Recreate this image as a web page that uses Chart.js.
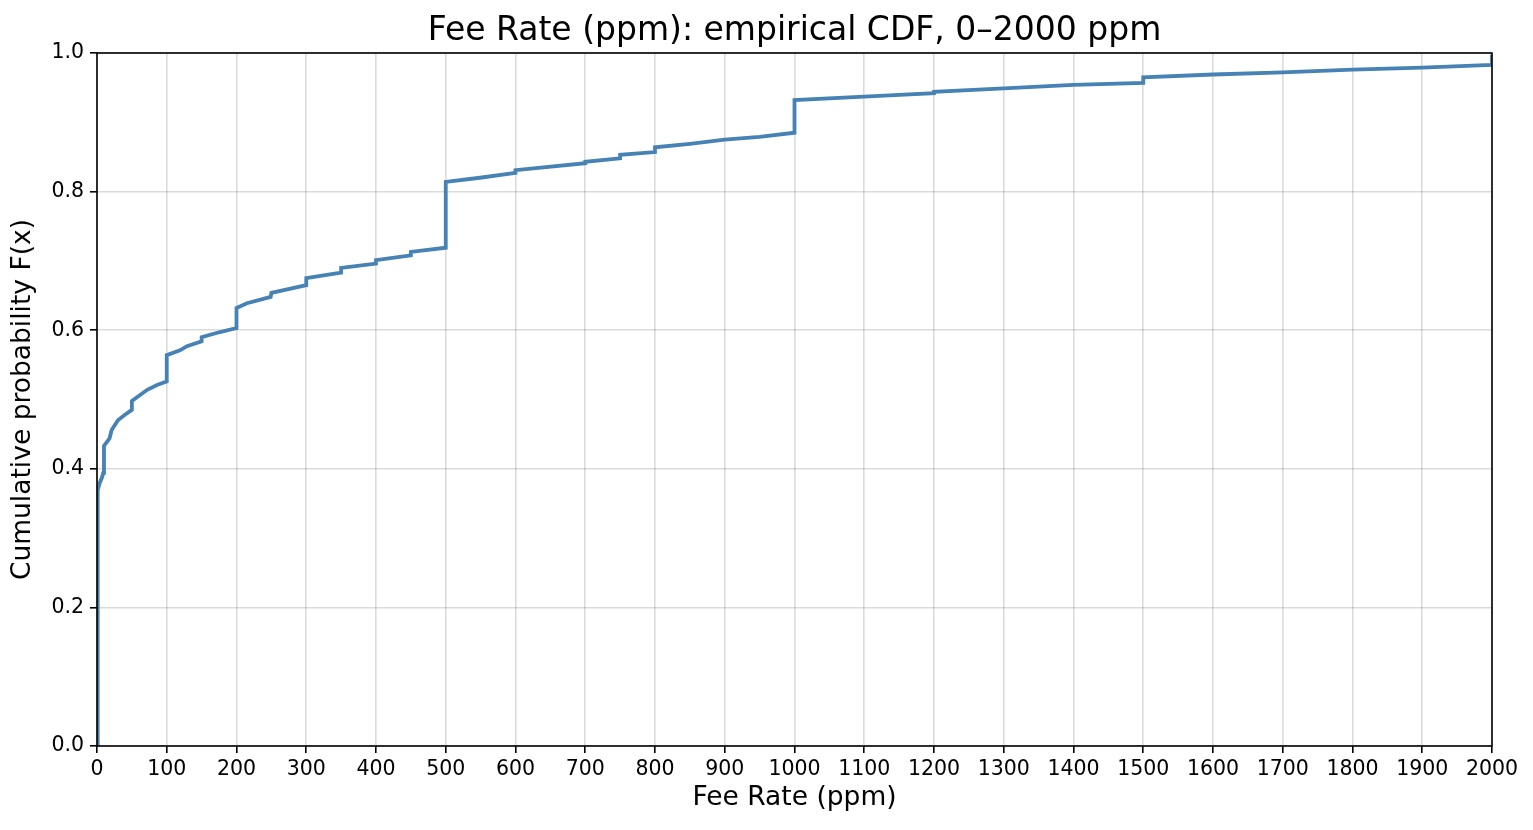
<!DOCTYPE html>
<html>
<head>
<meta charset="utf-8">
<title>Fee Rate CDF</title>
<script src="https://cdn.jsdelivr.net/npm/chart.js@4/dist/chart.umd.min.js"></script>
<style>
  html, body { margin: 0; padding: 0; background: #fff; }
  #wrap { width: 1533px; height: 830px; }
</style>
</head>
<body>
<div id="wrap"><canvas id="cdfChart" width="1533" height="830"></canvas></div>
<script>
// ===============================
// DATA
// ===============================
const feeX = [
  0, 1, 1, 4, 7, 9, 10, 10, 18, 21, 30, 40, 50, 50, 72, 86, 100, 100,
  119, 129, 150, 150, 175, 200, 200, 215, 249, 250, 300, 300, 350, 350,
  400, 400, 450, 450, 500, 500, 549, 600, 600, 700, 700, 750, 750, 800,
  800, 850, 900, 950, 1000, 1000, 1100, 1200, 1200, 1300, 1400, 1500,
  1500, 1600, 1700, 1800, 1900, 2000, 2000
];
const cdfY = [
  0.000, 0.100, 0.369, 0.380, 0.387, 0.394, 0.394, 0.433, 0.444, 0.456,
  0.470, 0.478, 0.485, 0.498, 0.514, 0.521, 0.526, 0.564, 0.571, 0.577,
  0.584, 0.590, 0.597, 0.603, 0.632, 0.639, 0.648, 0.654, 0.665, 0.675,
  0.683, 0.690, 0.696, 0.701, 0.708, 0.713, 0.719, 0.814, 0.820, 0.827,
  0.831, 0.841, 0.843, 0.848, 0.853, 0.857, 0.864, 0.869, 0.875, 0.879,
  0.885, 0.932, 0.937, 0.942, 0.944, 0.949, 0.954, 0.957, 0.965, 0.969,
  0.972, 0.976, 0.979, 0.983, 0.998
];
const xTicks = [0, 2000, 100];   // min, max, step
const yTicks = [0, 1, 0.2];
const titleText = "Fee Rate (ppm): empirical CDF, 0\u20132000 ppm";

// ===============================
// HELPERS
// ===============================
const points = feeX.map((x, i) => ({ x: x, y: cdfY[i] }));

const TITLE_FONT = 33;
const TITLE_PAD_TOP = 12;

// full frame around plot area, like matplotlib spines
const framePlugin = {
  id: "frame",
  afterDatasetsDraw(chart) {
    const { ctx, chartArea: a } = chart;
    ctx.save();
    ctx.strokeStyle = "#000";
    ctx.lineWidth = 1.6;
    ctx.strokeRect(a.left, a.top, a.right - a.left, a.bottom - a.top);
    ctx.restore();
  }
};

// title centred over the plot area (matplotlib style), not the canvas
const axesTitlePlugin = {
  id: "axesTitle",
  afterDraw(chart) {
    const { ctx, chartArea: a } = chart;
    const top = chart.titleBlock ? chart.titleBlock.top : 0;
    ctx.save();
    ctx.fillStyle = "#000";
    ctx.font = `normal ${TITLE_FONT}px 'DejaVu Sans', sans-serif`;
    ctx.textAlign = "center";
    ctx.textBaseline = "middle";
    ctx.fillText(titleText, (a.left + a.right) / 2, top + TITLE_PAD_TOP + TITLE_FONT * 0.6);
    ctx.restore();
  }
};

Chart.defaults.font.family = "'DejaVu Sans', sans-serif";
Chart.defaults.color = "#000";

const gridStyle = {
  color: "rgba(0,0,0,0.14)",
  lineWidth: 1.6,
  tickColor: "#000",
  tickWidth: 1.6,
  tickLength: 7
};

// ===============================
// CHART
// ===============================
new Chart(document.getElementById("cdfChart").getContext("2d"), {
  type: "scatter",
  data: {
    datasets: [{
      data: points,
      showLine: true,
      borderColor: "#4682b4",
      borderWidth: 3.8,
      pointRadius: 0,
      fill: false,
      tension: 0
    }]
  },
  options: {
    responsive: false,
    devicePixelRatio: 1,
    animation: false,
    layout: { padding: { left: 0, right: 41, top: 0, bottom: 0 } },
    plugins: {
      legend: { display: false },
      tooltip: { enabled: false },
      title: {
        // only reserves the space; text itself drawn by axesTitlePlugin
        display: true,
        text: titleText,
        color: "rgba(0,0,0,0)",
        font: { size: TITLE_FONT, weight: "normal", lineHeight: 1.2 },
        padding: { top: TITLE_PAD_TOP, bottom: 1.4 }
      }
    },
    scales: {
      x: {
        type: "linear",
        min: xTicks[0],
        max: xTicks[1],
        afterFit: s => { s.height = 84; },
        ticks: {
          stepSize: xTicks[2], autoSkip: false, maxRotation: 0,
          font: { size: 20.5 }, padding: 4, callback: v => String(v)
        },
        grid: gridStyle,
        border: { display: false },
        title: { display: true, text: "Fee Rate (ppm)", font: { size: 26.5, lineHeight: 1.2 }, padding: { bottom: 16 } }
      },
      y: {
        min: yTicks[0],
        max: yTicks[1],
        afterFit: s => { s.width = 97; },
        ticks: { stepSize: yTicks[2], font: { size: 20.5 }, padding: 6, callback: v => v.toFixed(1) },
        grid: gridStyle,
        border: { display: false },
        title: { display: true, text: "Cumulative probability F(x)", font: { size: 26.5, lineHeight: 1.2 }, padding: { top: 7 } }
      }
    }
  },
  plugins: [framePlugin, axesTitlePlugin]
});
</script>
</body>
</html>
